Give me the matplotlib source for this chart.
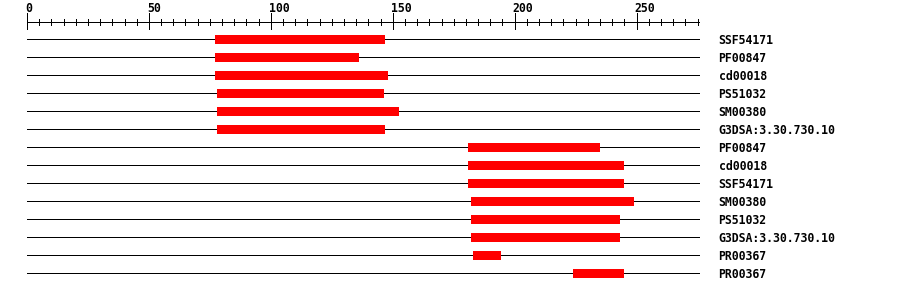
import matplotlib
matplotlib.use("Agg")
import matplotlib.pyplot as plt

# ============== data =============
SEQ_LEN = 276

LABELS = ["SSF54171", "PF00847", "cd00018", "PS51032", "SM00380", "G3DSA:3.30.730.10",
          "PF00847", "cd00018", "SSF54171", "SM00380", "PS51032", "G3DSA:3.30.730.10",
          "PR00367", "PR00367"]
STARTS = [77, 77, 77, 78, 78, 78, 181, 181, 181, 182, 182, 182, 183, 224]
ENDS = [147, 136, 148, 146.5, 152.5, 147, 235, 245, 245, 249, 243, 243, 194.5, 245]

MAJOR_TICKS = [0, 50, 100, 150, 200, 250]
MINOR_TICKS = list(range(0, 280, 5))

# ============== style =============
W, H = 900, 292
LEFT_PX, RIGHT_PX = 27, 700
RULER_PX = 30
BAR_COLOR = "#ff0000"
LW = 0.72
FONT = dict(family="DejaVu Sans Mono", weight="bold", size=8.3)

fig = plt.figure(figsize=(W / 100, H / 100), dpi=100)
fig.patch.set_facecolor("white")

# 刻度尺
rax = fig.add_axes([LEFT_PX / W, (H - RULER_PX) / H, (RIGHT_PX - LEFT_PX) / W, RULER_PX / H])
rax.set_xlim(0, SEQ_LEN)
rax.set_ylim(RULER_PX, 0)
rax.axis("off")
rax.hlines(22, 0, SEQ_LEN, color="black", lw=LW, antialiased=False)
rax.vlines(MINOR_TICKS, 18.7, 25, color="black", lw=LW, antialiased=False)
rax.vlines(MAJOR_TICKS, 13.3, 29, color="black", lw=LW, antialiased=False)
for t in MAJOR_TICKS:
    rax.text(t - 0.8, 11.6, str(t), ha="left", va="baseline", clip_on=False, **FONT)

# 各条轨道
ax = fig.add_axes([LEFT_PX / W, 0, (RIGHT_PX - LEFT_PX) / W, (H - RULER_PX) / H])
ax.set_xlim(0, SEQ_LEN)
n = len(LABELS)
ax.set_ylim((H - RULER_PX - 9) / 18, -0.5)
ax.axis("off")

rows = list(range(n))
ax.hlines(rows, 0, SEQ_LEN, color="black", lw=LW, antialiased=False, zorder=1)
ax.barh(rows, [e - s for s, e in zip(STARTS, ENDS)], left=STARTS, height=0.5,
        color=BAR_COLOR, linewidth=0, antialiased=False, zorder=2)
for i, lab in enumerate(LABELS):
    ax.text(SEQ_LEN + 7.6, i, lab, ha="left", va="center_baseline", clip_on=False, **FONT)

plt.savefig("out.png", dpi=100)
